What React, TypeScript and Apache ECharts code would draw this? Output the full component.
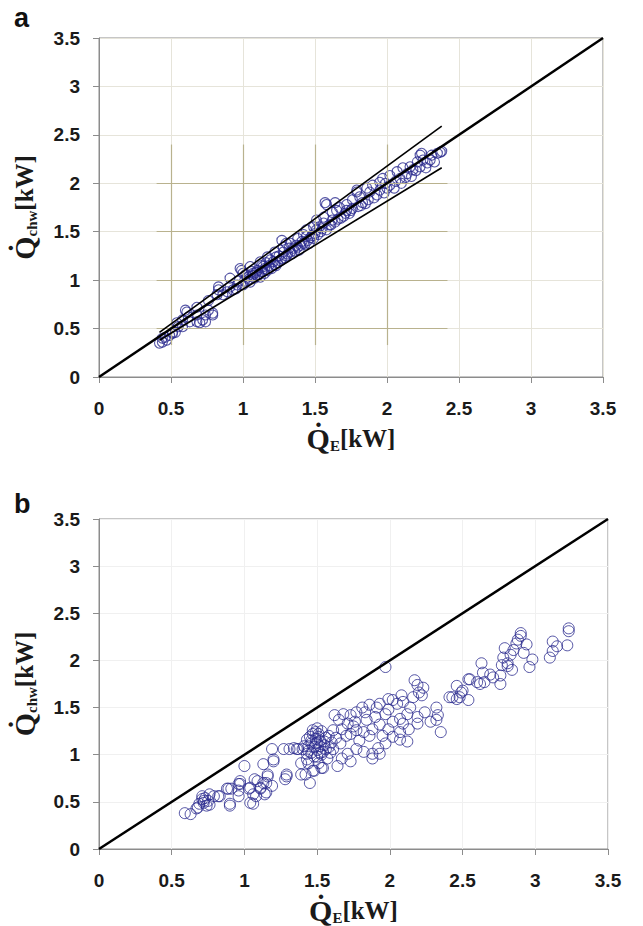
import React, { useEffect, useRef } from "react";
import * as echarts from "echarts";

// axis settings (both panels)
const axisMin = 0;
const axisMax = 3.5;
const axisStep = 0.5;

// reference lines
const parityLine = [[0, 0], [3.5, 3.5]];
const upperBound = [[0.42, 0.46], [2.38, 2.59]];
const lowerBound = [[0.42, 0.38], [2.38, 2.16]];

// inner (embedded) grid of panel a
const innerGridValues = [0.5, 1, 1.5, 2];
const innerXExtent = [0.4, 2.42];
const innerYExtent = [0.33, 2.4];

// panel a: Q_E vs Q_chw (calibrated)
const pointsA: number[][] = [
  [0.42, 0.35], [0.44, 0.36], [0.44, 0.4], [0.46, 0.41], [0.47, 0.38], [0.49, 0.43], [0.51, 0.45],
  [0.51, 0.46], [0.53, 0.46], [0.54, 0.56], [0.55, 0.52], [0.58, 0.52], [0.58, 0.59], [0.6, 0.69],
  [0.61, 0.67], [0.62, 0.62], [0.63, 0.57], [0.68, 0.64], [0.68, 0.57], [0.68, 0.72], [0.7, 0.56],
  [0.72, 0.59], [0.74, 0.57], [0.74, 0.64], [0.76, 0.69], [0.76, 0.79], [0.79, 0.64], [0.79, 0.66],
  [0.82, 0.85], [0.83, 0.9], [0.83, 0.93], [0.86, 0.85], [0.89, 0.88], [0.91, 0.93], [0.91, 1.02],
  [0.93, 0.9], [0.96, 0.95], [0.98, 1.12], [0.99, 1.1], [1.0, 0.95], [1.0, 1.07], [1.03, 1.03],
  [1.05, 0.98], [1.05, 1.14], [1.07, 1.05], [1.07, 1.07], [1.1, 1.1], [1.1, 1.04], [1.12, 1.03],
  [1.12, 1.19], [1.13, 1.09], [1.14, 1.14], [1.15, 1.07], [1.17, 1.1], [1.17, 1.24], [1.18, 1.15],
  [1.19, 1.21], [1.2, 1.12], [1.22, 1.16], [1.22, 1.29], [1.23, 1.24], [1.24, 1.18], [1.26, 1.2],
  [1.27, 1.41], [1.28, 1.29], [1.28, 1.34], [1.29, 1.23], [1.3, 1.38], [1.31, 1.27], [1.33, 1.38],
  [1.33, 1.29], [1.35, 1.33], [1.36, 1.3], [1.38, 1.43], [1.38, 1.34], [1.4, 1.36], [1.41, 1.4],
  [1.42, 1.47], [1.43, 1.37], [1.44, 1.52], [1.45, 1.41], [1.47, 1.44], [1.48, 1.46], [1.49, 1.55],
  [1.5, 1.48], [1.51, 1.62], [1.51, 1.52], [1.53, 1.55], [1.54, 1.5], [1.56, 1.65], [1.56, 1.59],
  [1.57, 1.8], [1.58, 1.78], [1.6, 1.57], [1.62, 1.7], [1.62, 1.62], [1.64, 1.8], [1.65, 1.72],
  [1.66, 1.63], [1.67, 1.75], [1.7, 1.66], [1.72, 1.78], [1.72, 1.72], [1.74, 1.69], [1.76, 1.83],
  [1.76, 1.74], [1.79, 1.93], [1.79, 1.91], [1.8, 1.76], [1.81, 1.86], [1.83, 1.8], [1.85, 1.79],
  [1.86, 1.95], [1.88, 1.91], [1.9, 1.98], [1.91, 1.85], [1.95, 2.01], [1.95, 1.93], [1.97, 2.05],
  [1.98, 1.9], [1.99, 2.0], [2.02, 2.08], [2.02, 1.98], [2.05, 1.95], [2.07, 2.12], [2.09, 2.05],
  [2.1, 2.0], [2.11, 2.16], [2.14, 2.1], [2.16, 2.17], [2.17, 2.07], [2.18, 2.14], [2.21, 2.22],
  [2.23, 2.17], [2.23, 2.29], [2.24, 2.31], [2.25, 2.24], [2.27, 2.16], [2.3, 2.24], [2.31, 2.29],
  [2.33, 2.22], [2.35, 2.31], [2.37, 2.32], [2.38, 2.33],
  [0.95, 0.91], [0.97, 0.99], [1.01, 0.99], [1.02, 1.06], [1.04, 1.01], [1.06, 1.09], [1.08, 1.02],
  [1.09, 1.08], [1.11, 1.06], [1.13, 1.15], [1.15, 1.12], [1.16, 1.18], [1.19, 1.13], [1.21, 1.19],
  [1.23, 1.15], [1.25, 1.25], [1.27, 1.22], [1.3, 1.25], [1.32, 1.33], [1.34, 1.27], [1.37, 1.36],
  [1.39, 1.31], [1.42, 1.38], [1.44, 1.45], [1.46, 1.38], [1.49, 1.43], [1.52, 1.47], [1.55, 1.53],
  [1.58, 1.52], [1.61, 1.57], [1.64, 1.6], [1.68, 1.64], [1.71, 1.69], [1.75, 1.72], [1.82, 1.77],
  [1.87, 1.83], [1.93, 1.88], [2.0, 1.95], [2.06, 2.02], [2.13, 2.06], [2.2, 2.13], [2.28, 2.21]
];

// panel b: Q_E vs Q_chw (uncalibrated)
const pointsB: number[][] = [
  [0.59, 0.38], [0.63, 0.37], [0.67, 0.43], [0.68, 0.44], [0.69, 0.48], [0.71, 0.53], [0.71, 0.56],
  [0.72, 0.49], [0.72, 0.51], [0.73, 0.54], [0.74, 0.46], [0.75, 0.51], [0.76, 0.47], [0.76, 0.58],
  [0.79, 0.56], [0.82, 0.56], [0.83, 0.56], [0.88, 0.64], [0.89, 0.64], [0.9, 0.46], [0.9, 0.48],
  [0.91, 0.64], [0.96, 0.69], [0.96, 0.56], [0.96, 0.62], [0.97, 0.72], [0.97, 0.69], [1.0, 0.88],
  [1.03, 0.64], [1.04, 0.65], [1.04, 0.49], [1.06, 0.48], [1.06, 0.58], [1.07, 0.74], [1.08, 0.56],
  [1.09, 0.72], [1.11, 0.64], [1.11, 0.65], [1.13, 0.7], [1.13, 0.9], [1.14, 0.58], [1.15, 0.6],
  [1.15, 0.7], [1.16, 0.77], [1.16, 0.79], [1.19, 0.67], [1.19, 1.06], [1.2, 0.93], [1.2, 0.95],
  [1.27, 1.06], [1.28, 0.74], [1.29, 0.77], [1.29, 0.79], [1.31, 1.06], [1.34, 1.07], [1.36, 1.06],
  [1.37, 1.06], [1.39, 0.79], [1.39, 0.91], [1.4, 1.06], [1.41, 1.09], [1.42, 0.79], [1.43, 1.01],
  [1.43, 1.16], [1.43, 0.95], [1.44, 0.91], [1.44, 1.09], [1.45, 0.7], [1.45, 1.19], [1.46, 1.12],
  [1.46, 1.02], [1.47, 1.22], [1.47, 1.26], [1.47, 0.83], [1.48, 0.98], [1.48, 0.83], [1.49, 1.12],
  [1.49, 1.17], [1.5, 1.28], [1.5, 0.98], [1.5, 1.05], [1.51, 1.22], [1.51, 0.91], [1.52, 1.09],
  [1.52, 1.15], [1.53, 0.86], [1.53, 1.0], [1.54, 1.03], [1.54, 0.86], [1.55, 1.1], [1.56, 1.18],
  [1.57, 0.96], [1.58, 1.08], [1.6, 1.13], [1.61, 1.26], [1.61, 1.06], [1.62, 1.42], [1.63, 1.18],
  [1.64, 0.88], [1.65, 1.37], [1.66, 1.12], [1.67, 1.27], [1.67, 0.96], [1.68, 1.43], [1.7, 1.2],
  [1.71, 1.33], [1.71, 1.01], [1.73, 1.42], [1.73, 1.22], [1.73, 0.93], [1.75, 1.3], [1.76, 1.35],
  [1.77, 1.45], [1.77, 1.26], [1.77, 1.06], [1.79, 1.15], [1.81, 1.5], [1.82, 1.24], [1.82, 1.03],
  [1.83, 1.45], [1.84, 1.37], [1.86, 1.53], [1.86, 1.2], [1.88, 1.27], [1.88, 1.01], [1.88, 0.96],
  [1.9, 1.4], [1.91, 1.5], [1.92, 1.07], [1.93, 1.54], [1.93, 1.32], [1.93, 1.01], [1.95, 1.2],
  [1.97, 1.93], [1.97, 1.43], [1.97, 1.12], [1.99, 1.48], [1.99, 1.59], [1.99, 1.27], [2.02, 1.58],
  [2.02, 1.35], [2.02, 1.19], [2.05, 1.54], [2.07, 1.38], [2.07, 1.24], [2.07, 1.16], [2.08, 1.63],
  [2.09, 1.56], [2.09, 1.33], [2.12, 1.43], [2.12, 1.14], [2.13, 1.27], [2.14, 1.5], [2.16, 1.61],
  [2.17, 1.79], [2.19, 1.74], [2.19, 1.4], [2.19, 1.33], [2.2, 1.66], [2.22, 1.63], [2.23, 1.71],
  [2.24, 1.45], [2.28, 1.35], [2.32, 1.5], [2.32, 1.37], [2.33, 1.42], [2.35, 1.24], [2.41, 1.61],
  [2.43, 1.61], [2.46, 1.73], [2.46, 1.59], [2.48, 1.61], [2.49, 1.66], [2.5, 1.68], [2.54, 1.58],
  [2.54, 1.8], [2.55, 1.8], [2.6, 1.77], [2.62, 1.75], [2.63, 1.97], [2.64, 1.87], [2.65, 1.77],
  [2.69, 1.85], [2.71, 1.82], [2.76, 1.84], [2.76, 1.75], [2.77, 1.95], [2.78, 2.03], [2.79, 2.13],
  [2.81, 1.97], [2.81, 1.94], [2.83, 2.06], [2.84, 1.9], [2.85, 2.11], [2.87, 2.18], [2.88, 2.22],
  [2.9, 2.26], [2.9, 2.29], [2.92, 2.08], [2.94, 2.17], [2.96, 1.93], [2.98, 2.01], [3.1, 2.03],
  [3.12, 2.1], [3.12, 2.2], [3.15, 2.15], [3.22, 2.16], [3.23, 2.31], [3.23, 2.34],
  [1.44, 1.04], [1.46, 1.15], [1.48, 1.08], [1.49, 1.24], [1.5, 1.13], [1.51, 1.19], [1.52, 1.02],
  [1.53, 1.25], [1.55, 1.14], [1.56, 1.06], [1.58, 1.2], [1.59, 1.02]
];

const axisColor = "#8c8c8c";
const textColor = "#1a1a1a";
const markerColor = "#2b2b8e";

function richName(sub: string) {
  return {
    name: `{q|Q\u0307}{s|${sub}}{u|[kW]}`,
    rich: {
      q: { fontFamily: "Liberation Serif", fontWeight: "bold", fontSize: 30, color: textColor },
      s: {
        fontFamily: "Liberation Serif",
        fontWeight: "bold",
        fontSize: 15,
        color: textColor,
        verticalAlign: "bottom",
        lineHeight: 22,
      },
      u: { fontFamily: "Liberation Serif", fontWeight: "bold", fontSize: 25, color: textColor },
    },
  };
}

function valueAxis(gridIndex: number, isX: boolean, sub: string, gap: number, splitColor: string) {
  const n = richName(sub);
  return {
    type: "value",
    gridIndex,
    min: axisMin,
    max: axisMax,
    interval: axisStep,
    name: n.name,
    nameLocation: "middle",
    nameGap: gap,
    nameRotate: isX ? 0 : 90,
    nameTextStyle: { rich: n.rich },
    axisLine: { show: true, onZero: false, lineStyle: { color: axisColor, width: 1 } },
    axisTick: { show: true, length: 6, lineStyle: { color: axisColor } },
    axisLabel: {
      color: textColor,
      fontFamily: "Liberation Sans",
      fontWeight: "bold",
      fontSize: 19,
      margin: isX ? 22 : 19,
    },
    splitLine: { show: true, lineStyle: { color: splitColor, width: 1 } },
  };
}

export default function App() {
  const ref = useRef<HTMLDivElement>(null);
  useEffect(() => {
    if (!ref.current) return;
    const chart = echarts.init(ref.current, undefined, { renderer: "svg" });

    const innerSegments: any[] = [];
    innerGridValues.forEach((v) => {
      innerSegments.push([{ coord: [v, innerYExtent[0]] }, { coord: [v, innerYExtent[1]] }]);
      innerSegments.push([{ coord: [innerXExtent[0], v] }, { coord: [innerXExtent[1], v] }]);
    });

    const lineSeries = (data: number[][], xi: number, width: number) => ({
      type: "line",
      xAxisIndex: xi,
      yAxisIndex: xi,
      data,
      symbol: "none",
      silent: true,
      z: 5,
      lineStyle: { color: "#000", width },
    });

    chart.setOption({
      animation: false,
      backgroundColor: "#fff",
      grid: [
        { left: 99, top: 38, width: 504, height: 339, show: true, borderColor: axisColor, borderWidth: 1 },
        { left: 99, top: 519, width: 509, height: 335, show: true, borderColor: axisColor, borderWidth: 1 },
      ],
      xAxis: [
        valueAxis(0, true, "E", 46, "#e6e4da"),
        valueAxis(1, true, "E", 46, "#f0f0f0"),
      ],
      yAxis: [
        valueAxis(0, false, "chw", 60, "#e6e4da"),
        valueAxis(1, false, "chw", 60, "#f0f0f0"),
      ],
      graphic: [
        {
          type: "text",
          left: 14,
          top: 4,
          style: { text: "a", font: "bold 27px 'Liberation Sans'", fill: "#111" },
        },
        {
          type: "text",
          left: 14,
          top: 490,
          style: { text: "b", font: "bold 27px 'Liberation Sans'", fill: "#111" },
        },
      ],
      series: [
        {
          type: "scatter",
          xAxisIndex: 0,
          yAxisIndex: 0,
          data: [],
          silent: true,
          z: 1,
          markLine: {
            symbol: "none",
            silent: true,
            animation: false,
            label: { show: false },
            lineStyle: { color: "#b9b28e", width: 1.2, type: "solid" },
            data: innerSegments,
          },
        },
        {
          type: "scatter",
          xAxisIndex: 0,
          yAxisIndex: 0,
          data: pointsA,
          symbol: "circle",
          symbolSize: 10,
          z: 3,
          itemStyle: { color: "rgba(0,0,0,0)", borderColor: markerColor, borderWidth: 1.1 },
        },
        lineSeries(parityLine, 0, 2.5),
        lineSeries(upperBound, 0, 1.6),
        lineSeries(lowerBound, 0, 1.6),
        {
          type: "scatter",
          xAxisIndex: 1,
          yAxisIndex: 1,
          data: pointsB,
          symbol: "circle",
          symbolSize: 11,
          z: 3,
          itemStyle: { color: "rgba(0,0,0,0)", borderColor: markerColor, borderWidth: 1 },
        },
        lineSeries(parityLine, 1, 2.5),
      ],
    });
    return () => chart.dispose();
  }, []);
  return (
    <div
      ref={ref}
      style={{ position: "absolute", left: 0, top: 0, width: 643, height: 926, background: "#fff" }}
    />
  );
}
